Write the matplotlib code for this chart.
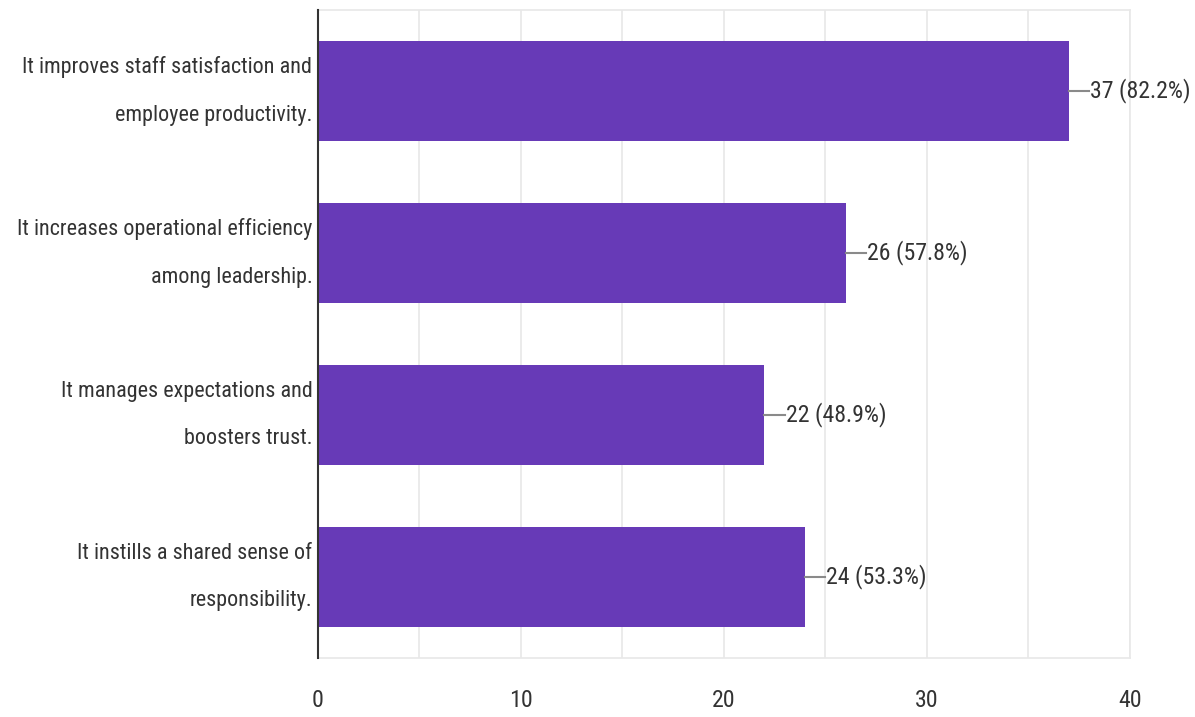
import matplotlib
matplotlib.use("Agg")
import matplotlib.pyplot as plt
from matplotlib import font_manager

# answer options and response counts
labels = [
    "It improves staff satisfaction and\nemployee productivity.",
    "It increases operational efficiency\namong leadership.",
    "It manages expectations and\nboosters trust.",
    "It instills a shared sense of\nresponsibility.",
]
counts = [37, 26, 22, 24]
percents = [82.2, 57.8, 48.9, 53.3]
xticks = [0, 10, 20, 30, 40]

# prefer a narrow face, the original text is condensed
fams = {f.name: f.fname for f in font_manager.fontManager.ttflist}
stretch = "normal"
fam = "Roboto"
for cand in ["Roboto Condensed", "Liberation Sans Narrow"]:
    if cand in fams:
        fam = cand
        break
else:
    if any("DejaVuSansCondensed" in f.fname for f in font_manager.fontManager.ttflist):
        fam, stretch = "DejaVu Sans", "condensed"
plt.rcParams["font.family"] = [fam, "DejaVu Sans"]
plt.rcParams["font.stretch"] = stretch

txt = "#333333"
fig = plt.figure(figsize=(11.95, 7.17), dpi=100)
ax = fig.add_axes([0.266, 0.0823, 0.6795, 0.9037])

# fit the font size so the widest label line is ~296 px like the original
probe = fig.text(0, 0, "It increases operational efficiency", fontsize=16)
w = probe.get_window_extent(fig.canvas.get_renderer()).width
probe.remove()
fs = 16 * 296 / w
ls = 1.42 * 48 / (fs * 100 / 72 * 1.17)

ypos = list(range(len(labels)))
ax.barh(ypos, counts, height=0.62, color="#673AB7", zorder=3)

for y, c, p in zip(ypos, counts, percents):
    ax.plot([c, c + 1.0], [y, y], color="#8a8a8a", lw=1.5, zorder=3)
    ax.text(c + 1.05, y, f"{c} ({p}%)", va="center", ha="left",
            fontsize=fs * 1.08, color=txt)

ax.set_xlim(0, 40)
ax.set_ylim(3.5, -0.5)
ax.set_xticks(xticks)
ax.set_xticks([5, 15, 25, 35], minor=True)
ax.set_yticks(ypos)
ax.set_yticklabels(labels, fontsize=fs, color=txt, linespacing=ls, va="center")
ax.tick_params(axis="y", length=0, pad=4)
ax.tick_params(axis="x", which="both", length=0, pad=22, labelsize=fs * 1.08,
               labelcolor=txt)

ax.grid(axis="x", which="both", color="#e8e8e8", lw=1.2, zorder=0)
for s in ["top", "bottom", "right"]:
    ax.spines[s].set_color("#e8e8e8")
    ax.spines[s].set_linewidth(1.2)
ax.spines["left"].set_color("#333333")
ax.spines["left"].set_linewidth(1.5)
ax.spines["left"].set_zorder(4)

fig.savefig("out.png", dpi=100)
plt.close()
